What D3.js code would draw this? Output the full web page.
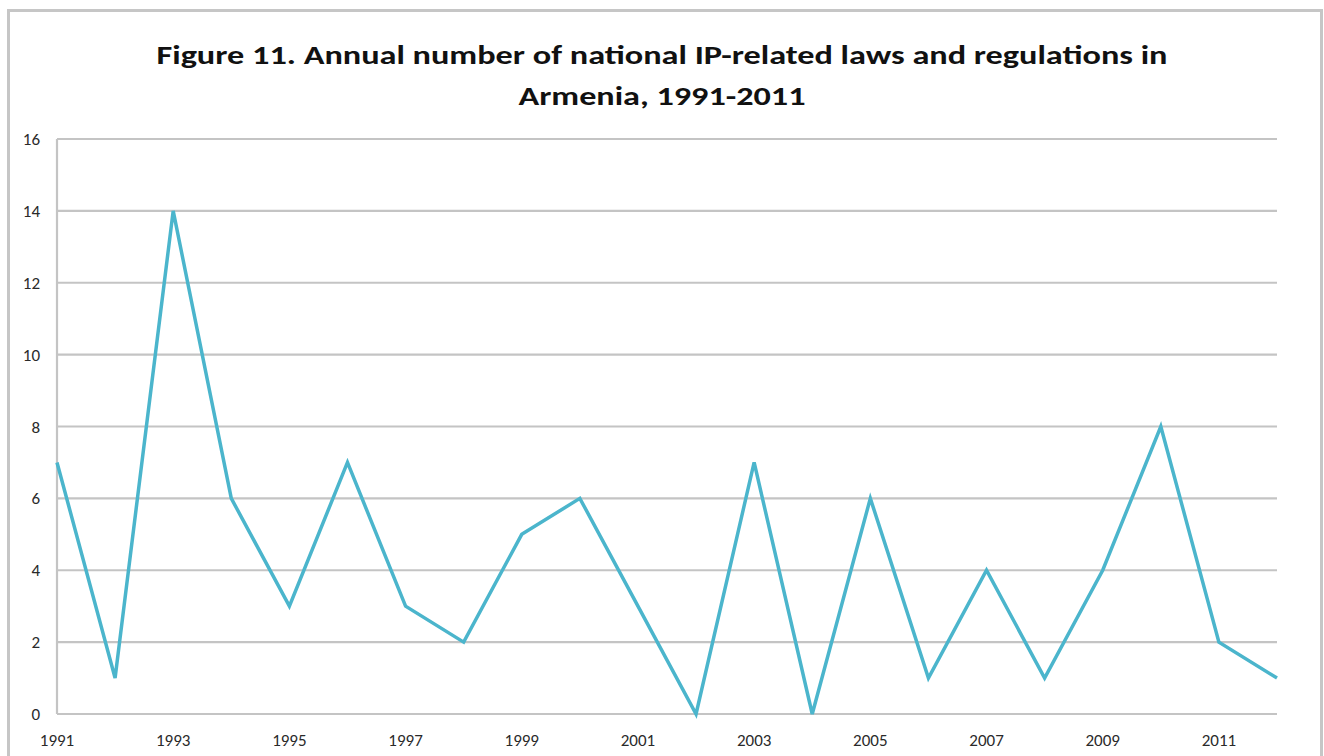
<!DOCTYPE html>
<html><head><meta charset="utf-8">
<script src="https://cdn.jsdelivr.net/npm/d3@7"></script>
<style>body{margin:0;background:#fff}svg{display:block}</style>
</head><body><svg id="c" width="1324" height="756"></svg>
<script>
const years = [1991,1992,1993,1994,1995,1996,1997,1998,1999,2000,2001,2002,2003,2004,2005,2006,2007,2008,2009,2010,2011,2012];
const counts = [7,1,14,6,3,7,3,2,5,6,3,0,7,0,6,1,4,1,4,8,2,1];
const yTicks = [0,2,4,6,8,10,12,14,16];
const xTickLabels = [1991,1993,1995,1997,1999,2001,2003,2005,2007,2009,2011];
const titleLines = ["Figure 11. Annual number of national IP-related laws and regulations in","Armenia, 1991-2011"];

const svg = d3.select("#c");
const font = "Carlito, 'Open Sans', 'Liberation Sans', sans-serif";
// outer frame
svg.append("rect").attr("x",8.5).attr("y",10.5).attr("width",1313).attr("height",760)
  .attr("fill","#fff").attr("stroke","#c6c6c6").attr("stroke-width",3);

const L=57, R=1277, T=139, B=714;
const x = d3.scaleLinear().domain([1991,2012]).range([L,R]);
const y = d3.scaleLinear().domain([0,16]).range([B,T]);

// gridlines
svg.append("g").selectAll("line").data(yTicks).join("line")
  .attr("x1",L).attr("x2",R).attr("y1",d=>y(d)).attr("y2",d=>y(d))
  .attr("stroke","#c4c4c4").attr("stroke-width",2.2);
// left axis line
svg.append("line").attr("x1",L).attr("x2",L).attr("y1",T).attr("y2",B)
  .attr("stroke","#c4c4c4").attr("stroke-width",2.2);

// y labels
svg.append("g").selectAll("text").data(yTicks).join("text")
  .attr("x",40).attr("y",d=>y(d)+6).attr("text-anchor","end")
  .attr("font-family",font).attr("font-size",17).attr("fill","#2a2a2a").text(d=>d);
// x labels
svg.append("g").selectAll("text").data(xTickLabels).join("text")
  .attr("x",d=>x(d)).attr("y",746).attr("text-anchor","middle")
  .attr("font-family",font).attr("font-size",17).attr("fill","#2a2a2a").text(d=>d);

// line
const line = d3.line().x((d,i)=>x(years[i])).y(d=>y(d));
svg.append("path").datum(counts).attr("d",line).attr("fill","none")
  .attr("stroke","#4bb5cc").attr("stroke-width",3.5).attr("stroke-linejoin","miter");

// title
const tl = [ {t:titleLines[0], y:64, w:1011}, {t:titleLines[1], y:105, w:287} ];
svg.append("g").selectAll("text").data(tl).join("text")
  .attr("x",662).attr("y",d=>d.y).attr("text-anchor","middle")
  .attr("font-family",font).attr("font-weight","bold").attr("font-size",27).attr("fill","#111")
  .attr("textLength",d=>d.w).attr("lengthAdjust","spacingAndGlyphs").text(d=>d.t);
</script></body></html>
